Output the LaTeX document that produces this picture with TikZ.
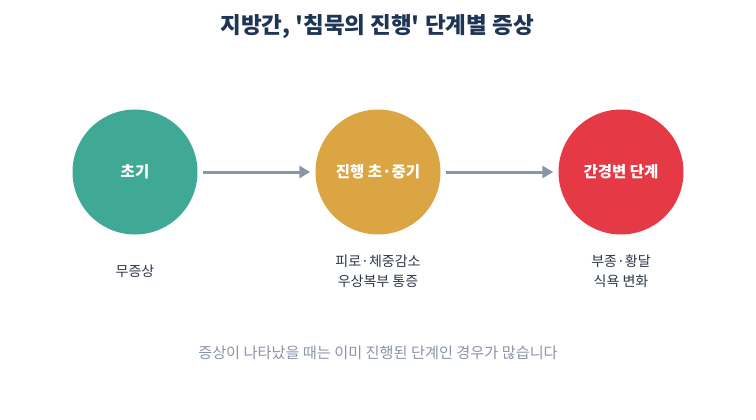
\documentclass[tikz,border=0pt]{standalone}
\usepackage{fontspec}
\setmainfont{Noto Sans CJK KR}[Ligatures=TeXOff]
\usetikzlibrary{arrows.meta}
\definecolor{teal1}{HTML}{3FA996}
\definecolor{gold1}{HTML}{DBA543}
\definecolor{red1}{HTML}{E63946}
\definecolor{navy}{HTML}{1F3556}
\definecolor{txt}{HTML}{2B3648}
\definecolor{arr}{HTML}{8C95A8}
\definecolor{note}{HTML}{8A94A6}
\begin{document}
\begin{tikzpicture}[x=1pt,y=-1pt,
  stage/.style={circle,minimum size=125pt,inner sep=0pt,text=white,font=\bfseries\fontsize{15.5}{18}\selectfont},
  desc/.style={align=center,text=txt,font=\fontsize{14}{20}\selectfont},
  flow/.style={draw=arr,line width=3pt,-{Triangle[length=11pt,width=12pt]}}]
\useasboundingbox (0,0) rectangle (756,420);
\node[font=\bfseries\fontsize{22.5}{26}\selectfont,text=navy] (title) at (377,27) {지방간, '침묵의 진행' 단계별 증상};
\node[stage,fill=teal1] (s1) at (135,172) {초기};
\node[stage,fill=gold1] (s2) at (378,172) {진행 초·중기};
\node[stage,fill=red1] (s3) at (621,172) {간경변 단계};
\draw[flow] ([xshift=5pt]s1.east) -- ([xshift=-5pt]s2.west);
\draw[flow] ([xshift=5pt]s2.east) -- ([xshift=-5pt]s3.west);
\node[desc] (d1) at (135,271) {무증상};
\node[desc] (d2) at (378,271) {피로·체중감소\\우상복부 통증};
\node[desc] (d3) at (621,271) {부종·황달\\식욕 변화};
\node[text=note,font=\fontsize{15.2}{18}\selectfont] (n) at (378,353) {증상이 나타났을 때는 이미 진행된 단계인 경우가 많습니다};
\end{tikzpicture}
\end{document}
